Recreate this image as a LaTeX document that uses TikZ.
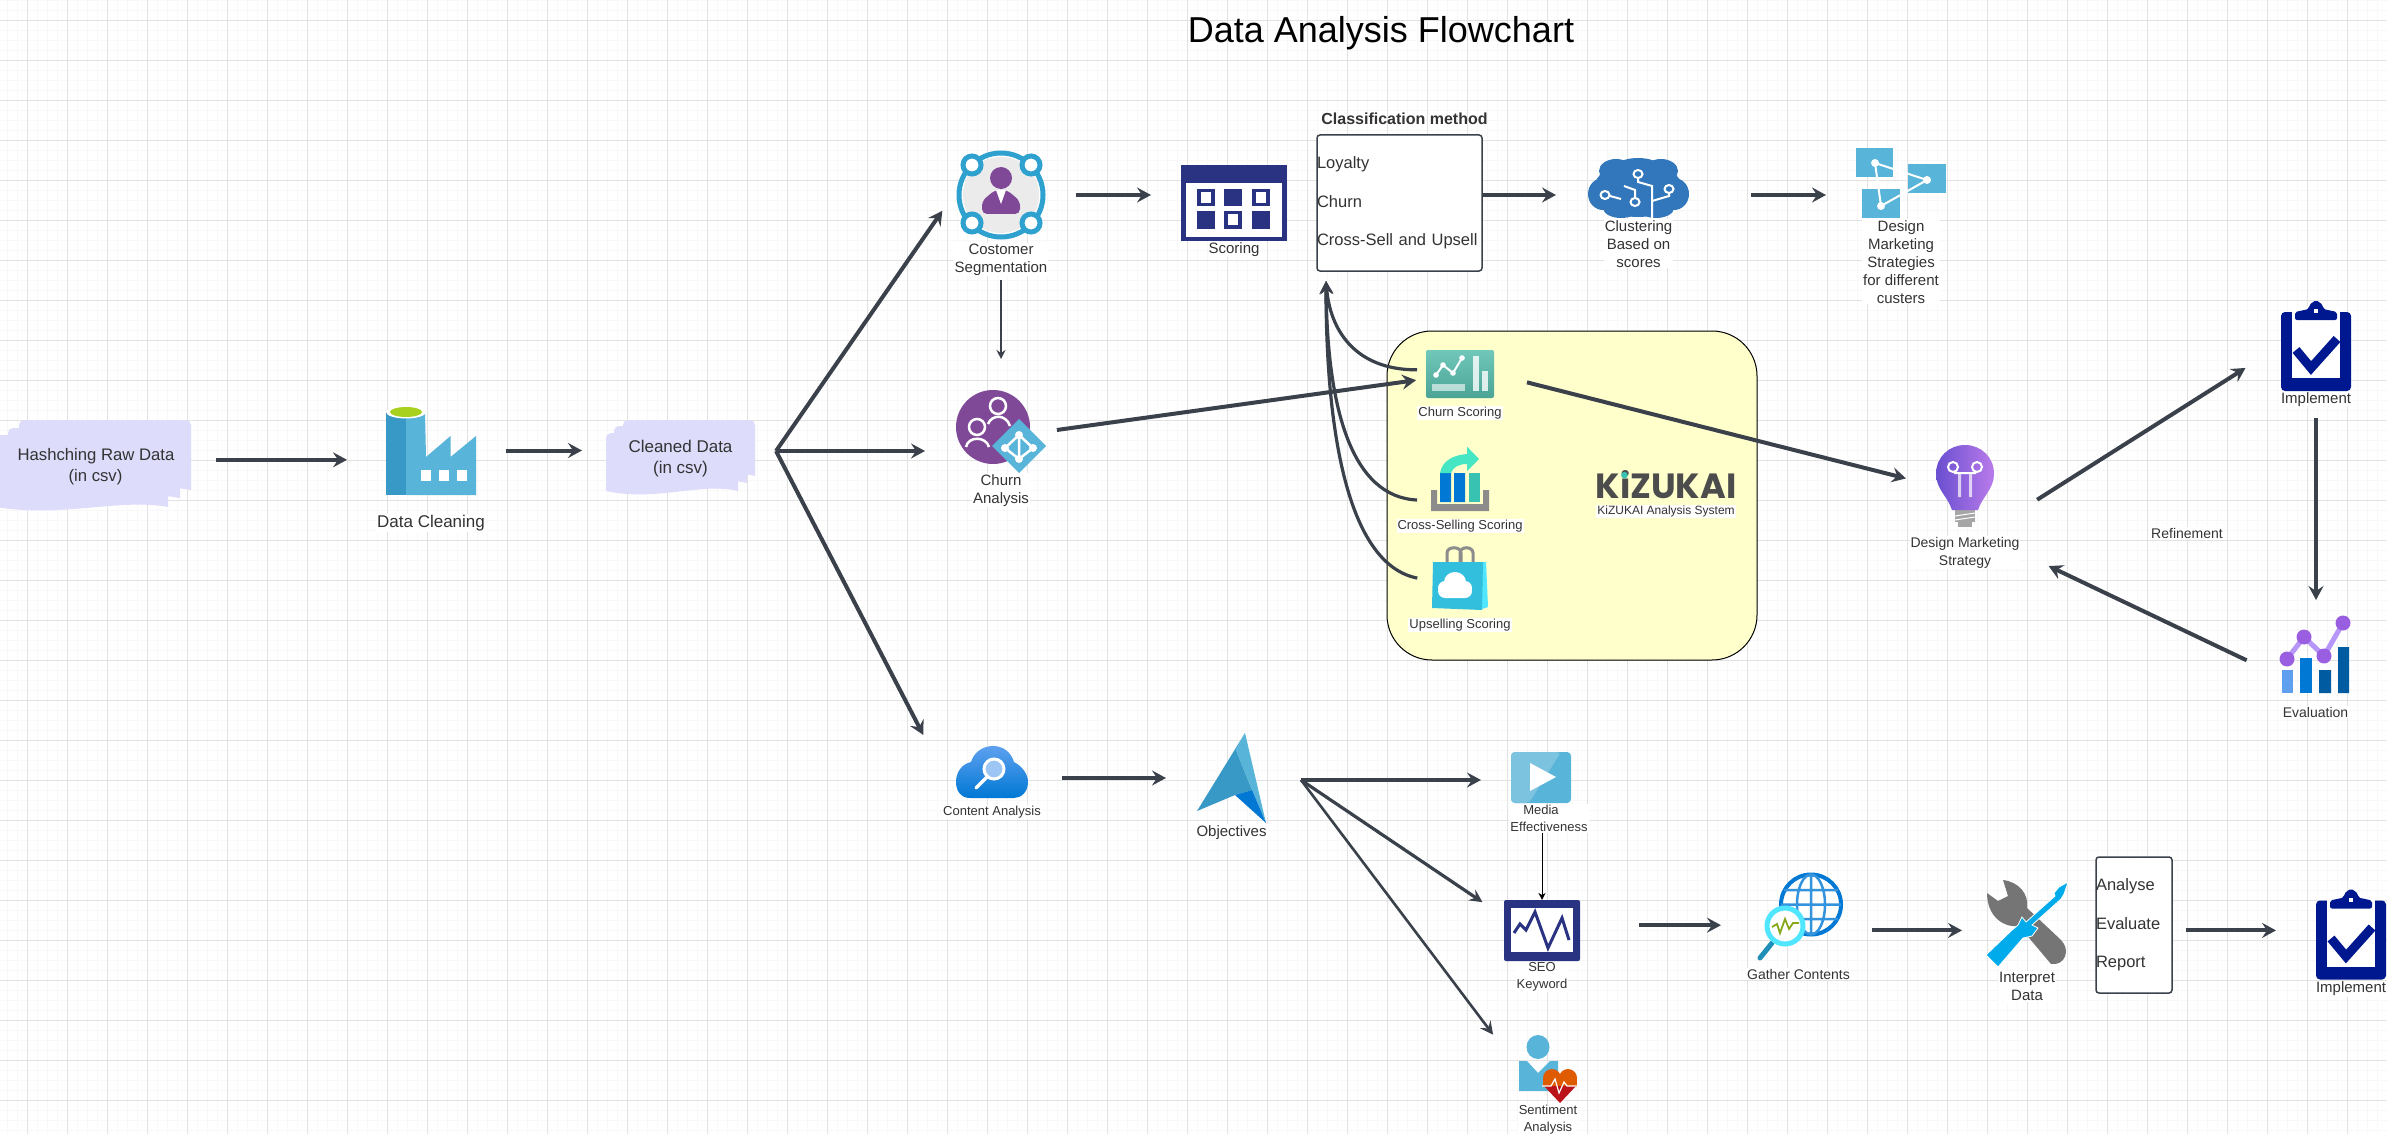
\documentclass[tikz,border=0pt]{standalone}
\usepackage{fontspec}
\setmainfont{Liberation Sans}
\newfontfamily\logofont{Poppins}
\usepackage{xcolor}
\usepackage{tikz}
\usetikzlibrary{positioning, arrows.meta, calc}

\definecolor{flowline}{HTML}{3A414A}
\definecolor{textdark}{HTML}{333333}
\definecolor{gridmajor}{HTML}{E2E2E2}
\definecolor{gridminor}{HTML}{F8F8F8}
\definecolor{docfill}{HTML}{DDDCFB}
\definecolor{yellowbox}{HTML}{FFFFCC}
\definecolor{azurelight}{HTML}{59B4D9}
\definecolor{azuredark}{HTML}{3999C6}
\definecolor{azurepale}{HTML}{7CC3E0}
\definecolor{navyicon}{HTML}{2A3282}
\definecolor{purpleicon}{HTML}{804998}
\definecolor{clipnavy}{HTML}{00188F}
\definecolor{limegreen}{HTML}{A8D11F}
\definecolor{ringblue}{HTML}{2EA1CF}
\definecolor{brainblue}{HTML}{3277BC}
\definecolor{tealtop}{HTML}{70C7BA}
\definecolor{tealbottom}{HTML}{4BA495}
\definecolor{msblue}{HTML}{0078D4}
\definecolor{msdeep}{HTML}{005BA1}
\definecolor{mssky}{HTML}{5EA0EF}
\definecolor{mintgreen}{HTML}{45E6C3}
\definecolor{barteal}{HTML}{37C2B1}
\definecolor{bagblue}{HTML}{32BEDD}
\definecolor{bagside}{HTML}{50E6FF}
\definecolor{bulbdark}{HTML}{6A4FD0}
\definecolor{bulblight}{HTML}{B97BEA}
\definecolor{dotpurple}{HTML}{9A5EE0}
\definecolor{linelilac}{HTML}{B796F9}
\definecolor{heartorange}{HTML}{DE5B00}
\definecolor{heartred}{HTML}{BA141A}
\definecolor{driverblue}{HTML}{00ABEB}
\definecolor{wrenchgrey}{HTML}{757575}
\definecolor{handleblue}{HTML}{1F8FB8}

% one sheet of a stacked document, local size #1 x #2
\newcommand{\docsheet}[2]{%
  \fill[docfill] (0,#2) [rounded corners=5pt] -- (0,0) -- (#1,0) [sharp corners] -- (#1,#2)
    .. controls (0.72*#1,#2-9) and (0.38*#1,#2+11) .. (0,#2) -- cycle;}

% clipboard with tick, local size 70 x 91
\newcommand{\clipicon}{%
  \fill[clipnavy, rounded corners=4pt] (0,12) rectangle (70,91);
  \fill[white] (11,6) rectangle (59,78);
  \fill[clipnavy, rounded corners=2pt] (14,20) -- (14,12) -- (28,9) -- (28,5) -- (35,0) -- (42,5) -- (42,9) -- (56,12) -- (56,20) -- cycle;
  \fill[white] (33,9) rectangle (37,13);
  \draw[clipnavy, line width=9pt] (15,50) -- (30,68) -- (56,39);}

\begin{document}
\begin{tikzpicture}[
  x=1pt, y=-1pt,
  flow/.style={draw=flowline, line width=4pt, -{Stealth[length=14pt,width=15pt,inset=5pt]}},
  thinflow/.style={draw=flowline, line width=1.5pt, -{Stealth[length=9pt,width=9pt,inset=3pt]}},
  curveflow/.style={draw=flowline, line width=3.2pt, -{Stealth[length=13pt,width=13pt,inset=5pt]}},
  iconbox/.style 2 args={minimum width=#1pt, minimum height=#2pt, inner sep=0pt, outer sep=0pt},
  lab/.style={fill=white, inner sep=1pt, align=center, text=textdark, font=\fontsize{15}{18}\selectfont},
  labsmall/.style={lab, font=\fontsize{13}{17}\selectfont},
  labmid/.style={lab, font=\fontsize{14}{18}\selectfont},
  listbox/.style={draw=flowline, line width=1.5pt, rounded corners=3pt, fill=white, inner sep=0pt, outer sep=0pt,
    align=left, text=textdark, font=\fontsize{16.5}{38.5}\selectfont},
]
  \useasboundingbox (0,0) rectangle (2387,1134);
  \fill[white] (0,0) rectangle (2387,1134);

  % Grid behind everything
  \foreach \gx in {0,...,238} \draw[gridminor, line width=1pt] (7.3+10*\gx,0) -- (7.3+10*\gx,1134);
  \foreach \gy in {0,...,113} \draw[gridminor, line width=1pt] (0,0.3+10*\gy) -- (2387,0.3+10*\gy);
  \foreach \gx in {0,...,59} \draw[gridmajor, line width=1pt] (27.3+40*\gx,0) -- (27.3+40*\gx,1134);
  \foreach \gy in {0,...,27} \draw[gridmajor, line width=1pt] (0,20.3+40*\gy) -- (2387,20.3+40*\gy);

  \node[font=\fontsize{36}{40}\selectfont] (title) at (1381,33) {Data Analysis Flowchart};

  % Stacked documents first, their text goes on top
  \begin{scope}[shift={(19,420)}] \docsheet{172}{70} \end{scope}
  \begin{scope}[shift={(8,428)}] \docsheet{172}{70} \end{scope}
  \begin{scope}[shift={(-4,435)}] \docsheet{172}{72} \end{scope}
  \begin{scope}[shift={(623,420)}] \docsheet{132}{56} \end{scope}
  \begin{scope}[shift={(614,426)}] \docsheet{133}{57} \end{scope}
  \begin{scope}[shift={(606,433)}] \docsheet{132}{58} \end{scope}

  \node[iconbox={191}{93}, align=center, text=textdark, font=\fontsize{16.7}{21}\selectfont] (hash) at (95.5,466.5) {\hspace*{1pt}Hashching Raw Data\\(in csv)};
  \node[iconbox={149}{77}, align=center, text=textdark, font=\fontsize{17}{21}\selectfont] (cleaned) at (680.5,458.5) {Cleaned Data\\(in csv)};

  % Icon places
  \node[iconbox={90}{89}]   (factory)    at (431,450.5) {};
  \node[iconbox={90}{90}]   (customer)   at (1001,195) {};
  \node[iconbox={90}{83}]   (churn)      at (1001,431.5) {};
  \node[iconbox={72}{52}]   (content)    at (992,772) {};
  \node[iconbox={106}{76}]  (scoring)    at (1234,203) {};
  \node[iconbox={101}{60}]  (brain)      at (1638.5,188) {};
  \node[iconbox={90}{70}]   (network)    at (1901,183) {};
  \node[iconbox={58}{82}]   (bulb)       at (1965,486) {};
  \node[iconbox={70}{91}]   (implement)  at (2316,345.5) {};
  \node[iconbox={71}{78}]   (evalicon)   at (2315.5,654) {};
  \node[iconbox={69}{90}]   (objectives) at (1231.5,778) {};
  \node[iconbox={60}{51}]   (media)      at (1541,777.5) {};
  \node[iconbox={76}{61}]   (seo)        at (1542,930.5) {};
  \node[iconbox={58}{68}]   (sentiment)  at (1548,1069) {};
  \node[iconbox={87}{89}]   (gather)     at (1798.5,917.5) {};
  \node[iconbox={84}{90}]   (tools)      at (2027,923) {};
  \node[iconbox={70}{91}]   (implementb) at (2351,934) {};

  \node[listbox, text width=165pt, minimum height=136pt] (classbox) at (1399.5,203) {Loyalty\\Churn\\\mbox{Cross-Sell and Upsell}};
  \node[above=7pt of classbox, xshift=5pt, text=textdark, font=\bfseries\fontsize{16}{18}\selectfont] (classtitle) {Classification method};
  \node[listbox, text width=76pt, minimum height=136pt] (reportbox) at (2134,925) {Analyse\\Evaluate\\Report};

  % Yellow system panel and what sits on it
  \node[draw=black, line width=1pt, fill=yellowbox, rounded corners=45pt, minimum width=370pt, minimum height=329pt, inner sep=0pt] (system) at (1572,495.5) {};
  \node[iconbox={68}{48}]   (churnscore) at (1460,374) {};
  \node[iconbox={58}{66}]   (crossicon)  at (1460,478) {};
  \node[iconbox={56}{63}]   (upsell)     at (1460,578.5) {};
  \node[text=black!70, inner sep=0pt, font=\logofont\bfseries\fontsize{35}{38}\selectfont] (logo) at (1666,485) {KiZUKAI};

  % Labels
  \node[lab, below=19pt of factory, font=\fontsize{17}{20}\selectfont] (factorylab) {Data Cleaning};
  \node[lab, below=2.5pt of customer] (customerlab) {Costomer\\Segmentation};
  \node[lab, below=0pt of scoring] (scoringlab) {Scoring};
  \node[lab, below=0pt of churn] (churnlab) {Churn\\Analysis};
  \node[lab, below=1pt of brain] (brainlab) {Clustering\\Based on\\scores};
  \node[lab, below=1pt of network] (networklab) {Design\\Marketing\\Strategies\\for different\\custers};
  \node[labsmall, below=8pt of churnscore] (churnscorelab) {Churn Scoring};
  \node[labsmall, below=8pt of crossicon] (crosslab) {Cross-Selling Scoring};
  \node[labsmall, below=8pt of upsell] (upselllab) {Upselling Scoring};
  \node[labsmall, below=5pt of logo, font=\fontsize{12}{15}\selectfont] (logolab) {KiZUKAI Analysis System};
  \node[labmid, below=9pt of bulb] (bulblab) {Design Marketing\\Strategy};
  \node[lab, below=0pt of implement] (implementlab) {Implement};
  \node[labmid, below=13pt of evalicon] (evallab) {Evaluation};
  \node[labmid] (refinelab) at (2187,533) {Refinement};
  \node[labsmall, below=7pt of content] (contentlab) {Content Analysis};
  \node[lab, below=1pt of objectives] (objectiveslab) {Objectives};
  \node[labsmall, below=1pt of media, xshift=8pt] (medialab) {Media\hspace*{16pt}\\Effectiveness};
  \node[labsmall, below=0pt of seo] (seolab) {SEO\\Keyword};
  \node[labsmall, below=1pt of sentiment] (sentimentlab) {Sentiment\\Analysis};
  \node[labmid, below=6pt of gather] (gatherlab) {Gather Contents};
  \node[lab, below=3pt of tools] (toolslab) {Interpret\\Data};
  \node[lab, below=1pt of implementb] (implementblab) {Implement};

  % Factory
  \begin{scope}[shift={(factory.north west)}]
    \fill[azurelight] (20,6) -- (39,6) -- (40,51) -- (64.5,30) -- (64.5,51) -- (90,30) -- (90,89) -- (20,89) -- cycle;
    \fill[azuredark] (0,6) rectangle (20,89);
    \fill[white] (20,6) ellipse [x radius=20, y radius=6.5];
    \fill[limegreen] (20,6) ellipse [x radius=16, y radius=5];
    \foreach \wx in {35,53,71} \fill[white] (\wx,64) rectangle (\wx+10,75);
  \end{scope}

  % Customer
  \begin{scope}[shift={(customer.center)}]
    \fill[black!8] (0,0) circle [radius=38];
    \draw[ringblue, line width=5pt] (0,0) circle [radius=42];
    \foreach \rx/\ry in {-29/-30,30/-30,-29/28,30/28} \filldraw[fill=white, draw=ringblue, line width=5pt] (\rx,\ry) circle [radius=9];
    \fill[purpleicon] (0,-17) circle [radius=11];
    \fill[purpleicon, rounded corners=5pt] (-19,19) -- (-19,6) -- (-6,-5) -- (6,-5) -- (19,6) -- (19,19) -- cycle;
    \fill[white] (-5,-5) -- (5,-5) -- (0,9) -- cycle;
  \end{scope}

  % Scoring calendar
  \begin{scope}[shift={(scoring.north west)}]
    \fill[navyicon] (0,0) rectangle (106,76);
    \fill[white] (5,18) rectangle (101,72);
    \foreach \cx/\cy in {16/24,71/24,43/46} {
      \fill[navyicon] (\cx,\cy) rectangle (\cx+17.5,\cy+17.5);
      \fill[white] (\cx+3.5,\cy+3.5) rectangle (\cx+14,\cy+14);
    }
    \foreach \cx/\cy in {43/24,16/46,71/46} \fill[navyicon] (\cx,\cy) rectangle (\cx+17.5,\cy+17.5);
  \end{scope}

  % Churn analysis
  \begin{scope}[shift={(churn.north west)}]
    \fill[purpleicon] (37,37) circle [radius=37];
    \draw[white, line width=2.5pt] (42,16) circle [radius=8];
    \draw[white, line width=2.5pt] (21,37) circle [radius=8];
    \draw[white, line width=2.5pt] (32,34) .. controls (36,24) and (50,24) .. (54,36);
    \draw[white, line width=2.5pt] (10,57) .. controls (12,46) and (30,46) .. (33,57);
    \fill[azurelight] (63,29) -- (90,56) -- (63,83) -- (36,56) -- cycle;
    \draw[white, line width=2.5pt] (63,45) -- (49,58) -- (63,69) -- (77,58) -- cycle (63,45) -- (63,69);
    \foreach \px/\py in {63/45,49/58,63/69,77/58} \fill[white] (\px,\py) circle [radius=4];
  \end{scope}

  % Brain cloud
  \begin{scope}[shift={(brain.north west)}]
    \foreach \ex/\ey/\erx/\ery in {50/31/44/28,15/36/15/16,86/36/15/16,28/13/17/12,73/13/17/12,50/9/22/9,33/50/18/10,68/50/18/10}
      \fill[brainblue] (\ex,\ey) ellipse [x radius=\erx, y radius=\ery];
    \draw[white, line width=2pt] (50,20) -- (50,24) -- (64,28) -- (64,60);
    \draw[white, line width=2pt] (81,35) -- (81,38) -- (64,43);
    \draw[white, line width=2pt] (47,40) -- (47,32) -- (36,28);
    \draw[white, line width=2pt] (22,38) -- (33,41);
    \foreach \px/\py in {50/16,81/31,47/44,17/37} \draw[white, line width=2pt] (\px,\py) ellipse [x radius=4.5, y radius=4];
  \end{scope}

  % Network of three squares
  \begin{scope}[shift={(network.north west)}]
    \fill[azurelight] (0,0) rectangle (37,29);
    \fill[azurelight] (52,16) rectangle (90,45);
    \fill[azurelight] (6,41) rectangle (44,70);
    \draw[white, line width=2pt] (19,15) -- (71,32) -- (25,58) -- cycle;
    \foreach \px/\py in {19/15,71/32,25/58} \fill[white] (\px,\py) circle [radius=4];
  \end{scope}

  % Churn scoring
  \begin{scope}[shift={(churnscore.north west)}]
    \shade[top color=tealtop, bottom color=tealbottom, rounded corners=2pt] (0,0) rectangle (68,48);
    \draw[white, line width=2pt] (10,25) -- (17,15) -- (27,23) -- (36,8);
    \foreach \px/\py in {10/25,17/15,27/23,36/8} \fill[white] (\px,\py) circle [radius=2.8];
    \fill[white, opacity=.6] (6,34) rectangle (39,41);
    \fill[white, opacity=.8] (47,6) rectangle (53,41);
    \fill[white, opacity=.8] (56,21) rectangle (62,41);
  \end{scope}

  % Cross-selling bars on a tray
  \begin{scope}[shift={(crossicon.north west)}]
    \fill[black!45] (0,45) rectangle (6,66) (52,45) rectangle (58,66) (0,59) rectangle (58,66);
    \fill[msblue] (9,28) rectangle (20,57) (23,28) rectangle (34,57);
    \fill[barteal] (38,28) rectangle (49,57);
    \fill[mintgreen] (9,28) .. controls (11,16) and (22,10) .. (36,9) -- (36,1.7) -- (48,14) -- (36,26) -- (36,19) .. controls (28,19) and (22,22) .. (20,28) -- cycle;
  \end{scope}

  % Shopping bag
  \begin{scope}[shift={(upsell.north west)}]
    \draw[black!45, line width=3pt] (15,16) -- (15,6) .. controls (15,-1) and (29,-1) .. (29,6) -- (29,16);
    \draw[black!45, line width=3pt] (28,16) -- (28,6) .. controls (28,-1) and (41,-1) .. (41,6) -- (41,16);
    \fill[bagside] (47,15) -- (54,15) -- (56,60) -- (47,63) -- cycle;
    \fill[bagblue] (1,15) -- (51,15) -- (50,63) -- (0,61) -- cycle;
    \fill[white, rounded corners=7pt] (6,51) -- (6,38) -- (40,38) -- (40,51) -- cycle;
    \fill[white] (23,35) ellipse [x radius=11, y radius=10];
    \fill[white] (13,41) circle [radius=7];
    \fill[white] (33,41) circle [radius=7];
  \end{scope}

  % Green dot of the logo
  \fill[barteal] (logo.north west) ++(29,4.5) circle [radius=3.3];

  % Light bulb
  \begin{scope}[shift={(bulb.north west)}]
    \fill[black!35] (19,64) rectangle (39,77);
    \fill[black!35] (22,77) rectangle (36,82);
    \draw[white, line width=1pt] (19,71) -- (39,68) (19,75) -- (39,72);
    \shade[left color=bulbdark, right color=bulblight]
      (16,65) .. controls (12,52) and (0,44) .. (0,29) .. controls (0,12) and (13,0) .. (29,0)
      .. controls (45,0) and (58,12) .. (58,29) .. controls (58,44) and (46,52) .. (42,65) -- cycle;
    \draw[white, line width=2pt] (17,22) circle [radius=5] (41,22) circle [radius=5] (18,28) -- (40,28);
    \fill[white, opacity=.7] (22,28) rectangle (25,52) (33,28) rectangle (36,52);
  \end{scope}

  % Clipboards
  \begin{scope}[shift={(implement.north west)}] \clipicon \end{scope}
  \begin{scope}[shift={(implementb.north west)}] \clipicon \end{scope}

  % Evaluation bars and line
  \begin{scope}[shift={(evalicon.north west)}]
    \fill[mssky] (2,55) rectangle (13,78);
    \fill[msblue] (20,43) rectangle (32,78);
    \fill[msdeep] (39,55) rectangle (51,78) (58,32) rectangle (69,78);
    \draw[linelilac, line width=5pt] (7,44) -- (24,22) -- (44,41) -- (63,8);
    \foreach \px/\py in {7/44,24/22,44/41,63/8} \fill[dotpurple] (\px,\py) circle [radius=7.5];
  \end{scope}

  % Search cloud
  \begin{scope}[shift={(content.north west)}]
    \shade[top color=mssky, bottom color=msblue] (14,52) .. controls (5,52) and (0,45) .. (0,36)
      .. controls (0,26) and (6,18) .. (15,16) .. controls (18,6) and (27,0) .. (37,0)
      .. controls (47,0) and (55,6) .. (58,16) .. controls (66,20) and (72,28) .. (72,36)
      .. controls (72,46) and (65,52) .. (58,52) -- cycle;
    \filldraw[fill=mssky!60, draw=white, line width=3pt] (38,23) circle [radius=10];
    \draw[white, line width=3.5pt, line cap=round] (31,31) -- (20,42);
  \end{scope}

  % Objectives arrowhead
  \begin{scope}[shift={(objectives.north west)}]
    \fill[azuredark] (48,0) -- (39,17) -- (55,57) -- (38,62) -- (0,78) -- cycle;
    \fill[azurelight] (48,0) -- (39,17) -- (55,57) -- (69,90) -- cycle;
    \fill[msblue] (38,62) -- (55,57) -- (69,90) -- cycle;
  \end{scope}

  % Media play tile
  \begin{scope}[shift={(media.north west)}]
    \fill[azurelight, rounded corners=4pt] (0,0) rectangle (60,51);
    \fill[azurepale, rounded corners=4pt] (0,0) -- (50,0) -- (18,51) -- (0,51) -- cycle;
    \fill[white] (19,11) -- (45,25) -- (19,39) -- cycle;
  \end{scope}

  % SEO monitor
  \begin{scope}[shift={(seo.north west)}]
    \fill[navyicon, rounded corners=2pt] (0,0) rectangle (76,61);
    \fill[white] (7,8) rectangle (69,52);
    \draw[navyicon, line width=3pt] (10,33) -- (16,24) -- (22,30) -- (31,12) -- (44,48) -- (58,18) -- (65,40);
  \end{scope}

  % Sentiment person and heart
  \begin{scope}[shift={(sentiment.north west)}]
    \fill[azurelight] (19,12) ellipse [x radius=11.5, y radius=12];
    \fill[azurelight] (0,26) -- (8,26) -- (19,38) -- (31,26) -- (39,26) -- (39,56) -- (0,56) -- cycle;
    \fill[heartorange] (33,43) circle [radius=9] (49,43) circle [radius=9];
    \fill[heartorange] (24,44) rectangle (58,52);
    \fill[heartred] (25,51) -- (57,51) -- (41,68) -- cycle;
    \draw[white, line width=1.2pt] (23,51) -- (32,51) -- (36,44) -- (40,58) -- (45,47) -- (48,51) -- (59,51);
  \end{scope}

  % Globe and lens
  \begin{scope}[shift={(gather.north west)}]
    \filldraw[fill=white, draw=msblue, line width=4pt] (56,31.5) circle [radius=30];
    \draw[msblue!80, line width=2.5pt] (56,31.5) ellipse [x radius=14, y radius=30] (26,31.5) -- (86,31.5) (56,1.5) -- (56,61.5)
      (29,17) -- (83,17) (29,46) -- (83,46);
    \draw[handleblue, line width=5pt, line cap=round] (17,70) -- (5,85);
    \filldraw[fill=white, draw=bagside, line width=5pt] (30,53) circle [radius=18];
    \draw[limegreen!80!black, line width=1.8pt] (17,54) -- (22,51) -- (25,60) -- (30,46) -- (34,56) -- (38,50) -- (44,50);
  \end{scope}

  % Wrench and screwdriver
  \begin{scope}[shift={(tools.north west)}]
    \fill[wrenchgrey] (2,15) -- (13,23) -- (23,18) -- (18,2) .. controls (34,4) and (44,16) .. (42,30) -- (76,62)
      .. controls (86,72) and (80,88) .. (66,86) -- (34,48) .. controls (18,50) and (2,38) .. (2,15) -- cycle;
    \filldraw[fill=driverblue, draw=white, line width=0.8pt] (83,4) -- (74,9) -- (69,15) -- (70,18) -- (41,44) -- (37,39) -- (33,47) -- (26,53)
      -- (1,77) -- (13,89) -- (38,60) -- (47,58) -- (53,50) -- (47,47) -- (76,21) -- (79,16) -- cycle;
  \end{scope}

  % Connectors: hashed data to the three branches
  \coordinate (splithub) at (776,451);
  \coordinate (objhub) at (1301,780);
  \coordinate (classin) at (1326,281);

  \draw[flow, shorten <=25pt, shorten >=39pt] (hash.4) -- (hash.4 -| factory.west);
  \draw[flow, shorten <=30pt, shorten >=24pt] (factory.east) -- (factory.east -| cleaned.west);
  \draw[flow, shorten >=24pt] (splithub) -- (customer.175);
  \draw[flow, shorten >=31pt] (splithub) -- (splithub -| churn.west);
  \draw[flow, shorten >=71pt] (splithub) -- (content.south west);

  % Segmentation row
  \draw[flow, shorten <=30pt, shorten >=30pt] (customer.east) -- (customer.east -| scoring.west);
  \draw[flow, shorten >=32pt] (customer.east -| classbox.east) -- (customer.east -| brain.west);
  \draw[flow, shorten <=62pt, shorten >=30pt] (customer.east -| brain.east) -- (customer.east -| network.west);
  \draw[thinflow, shorten <=4pt, shorten >=31pt] (customerlab.south) -- (customerlab.south |- churn.north);

  % Scoring feeds
  \draw[flow, shorten <=11pt, shorten >=10pt] (churn.east) -- (churnscore.188);
  \draw[curveflow, shorten <=9pt] (churnscore.173) .. controls (1355,370) and (1330,330) .. (classin);
  \draw[curveflow, shorten <=14pt] (crossicon.218) .. controls (1352,497) and (1327,410) .. (classin);
  \draw[curveflow, shorten <=15pt] (upsell.185) .. controls (1350,565) and (1326,440) .. (classin);

  % Refinement loop
  \draw[flow, shorten <=34pt, shorten >=31pt] (churnscore.east) -- (bulb.west);
  \draw[flow, shorten <=51pt, shorten >=42pt] (bulb.south east) -- (implement.west);
  \draw[flow, shorten <=11pt, shorten >=15pt] (implementlab.south) -- (implementlab.south |- evalicon.north);
  \draw[flow, shorten <=37pt, shorten >=31pt] (evalicon.212) -- (bulblab.east);

  % Content branch
  \draw[flow, shorten <=34pt, shorten >=31pt] (content.east |- objectives.west) -- (objectives.west);
  \draw[flow, shorten >=30pt] (objhub) -- (objhub -| media.west);
  \draw[curveflow, shorten >=26pt] (objhub) -- (seo.160);
  \draw[curveflow, line width=2.6pt, shorten >=43pt] (objhub) -- (sentiment.west);
  \draw[draw=black, line width=1pt, -{Stealth[length=7pt,width=7pt,inset=2pt]}] (medialab.south -| seo.north) -- (seo.north);
  \draw[flow, shorten <=59pt, shorten >=34pt] (gather.190 -| seo.east) -- (gather.190);
  \draw[flow, shorten <=30pt, shorten >=23pt] (gather.east |- tools.190) -- (tools.190);
  \draw[flow, shorten <=14pt, shorten >=40pt] (reportbox.east |- tools.190) -- (tools.190 -| implementb.west);
\end{tikzpicture}
\end{document}
